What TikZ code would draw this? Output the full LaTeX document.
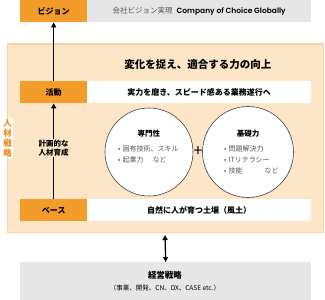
\documentclass[tikz,border=0pt]{standalone}
\usepackage{fontspec}
\setmainfont{Noto Sans CJK JP}
\newfontfamily\latinbold{Poppins}[BoldFont=* SemiBold]
\usetikzlibrary{arrows.meta, positioning}

\definecolor{orangebox}{HTML}{F39C2A}
\definecolor{peachfill}{HTML}{FDE6C8}
\definecolor{peachline}{HTML}{FAD39C}
\definecolor{graybox}{HTML}{E6E6E6}
\definecolor{graytext}{HTML}{555555}
\definecolor{redtext}{HTML}{F08A1C}

\tikzset{
  labelbox/.style={fill=orangebox, minimum width=67pt, minimum height=22pt, inner sep=0pt, font=\fontsize{8}{9}\selectfont\bfseries},
  textbox/.style={fill=white, minimum width=224pt, minimum height=22pt, inner sep=0pt, font=\fontsize{8}{9}\selectfont\bfseries},
  bubble/.style={circle, draw=black!75, line width=0.6pt, fill=white, minimum size=88pt, inner sep=0pt},
  bullet/.style={anchor=west, inner sep=0pt, text=graytext, font=\fontsize{7}{8}\selectfont},
  head/.style={inner sep=0pt, font=\fontsize{7.5}{8}\selectfont\bfseries}
}

\begin{document}
\begin{tikzpicture}[x=1pt, y=-1pt]
  \useasboundingbox (0,0) rectangle (325,300);

  % vision row
  \node[labelbox, anchor=north west] (vision) at (20,0) {ビジョン};
  \node[fill=graybox, minimum width=224pt, minimum height=22pt, inner sep=0pt, anchor=north west] (visiontext) at (87,0)
    {\fontsize{7.5}{9}\selectfont{\color{graytext}会社ビジョン実現}\hspace{4pt}{\latinbold\bfseries Company of Choice Globally}};

  % HR strategy area
  \fill[peachfill, draw=peachline, line width=1.2pt] (7.5,44) rectangle (323.5,232.5);
  \node[fill=white, inner sep=1pt, text=redtext, align=center, font=\fontsize{8.5}{10}\selectfont\bfseries] (hrstrat) at (7.5,138) {人\\材\\戦\\略};
  \node[font=\fontsize{10.5}{12}\selectfont\bfseries] (goal) at (198,65) {変化を捉え、適合する力の向上};

  % activity row
  \node[labelbox, anchor=north west] (activity) at (20,81) {活動};
  \node[textbox, anchor=north west] (activitytext) at (87,81) {実力を磨き、スピード感ある業務遂行へ};

  % base row
  \node[labelbox, anchor=north west] (base) at (20,199) {ベース};
  \node[textbox, anchor=north west] (basetext) at (87,199) {自然に人が育つ土壌（風土）};

  % circles
  \node[bubble] (expert) at (149,152) {};
  \node[bubble, minimum size=91pt] (basic) at (248,152) {};
  \node[font=\fontsize{16}{16}\selectfont] (plus) at (198,152) {+};
  \node[head] (experthead) at (149,134) {専門性};
  \node[bullet] (exp1) at (118,149) {•\hspace{2pt}固有技術、スキル};
  \node[bullet] (exp2) at (118,160) {•\hspace{2pt}起業力\hspace{9pt}など};
  \node[head] (basichead) at (248,134) {基礎力};
  \node[bullet] (bas1) at (224,149) {•\hspace{2pt}問題解決力};
  \node[bullet] (bas2) at (224,160) {•\hspace{2pt}ITリテラシー};
  \node[bullet] (bas3) at (224,171) {•\hspace{2pt}技能\hspace{22pt}など};

  % arrows
  \draw[-{Triangle[length=5pt, width=5pt]}, line width=1.3pt] (base.north) -- (activity.south)
    node[midway, fill=peachfill, inner sep=1pt, align=center, yshift=3pt, font=\fontsize{7.5}{9}\selectfont\bfseries] (plan) {計画的な\\人材育成};
  \draw[-{Triangle[length=5pt, width=5pt]}, line width=1.3pt] (activity.north) -- (vision.south);

  % management strategy
  \node[fill=graybox, minimum width=291pt, minimum height=38pt, inner sep=0pt, anchor=north west] (mgmt) at (20,262) {};
  \node[font=\fontsize{8.5}{10}\selectfont\bfseries] (mgmthead) at (165,275) {経営戦略};
  \node[font=\fontsize{6.5}{8}\selectfont] (mgmtsub) at (165,288) {（事業、開発、CN、DX、CASE etc.）};
  \coordinate (areabottom) at (165,235);
  \draw[{Triangle[length=5pt, width=5pt]}-{Triangle[length=5pt, width=5pt]}, line width=1.3pt] (areabottom) -- (mgmt.north);
\end{tikzpicture}
\end{document}
